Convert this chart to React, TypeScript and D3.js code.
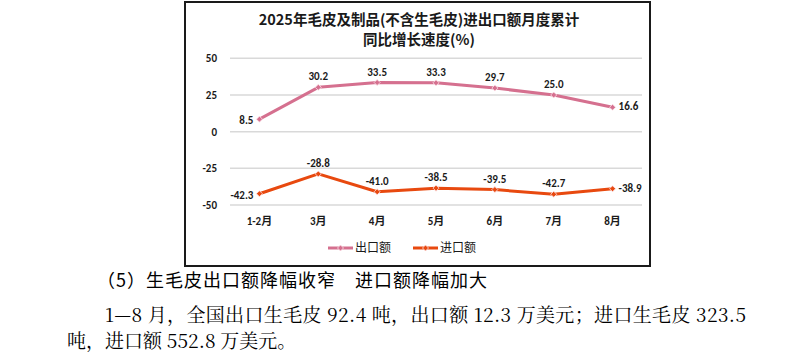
import React from "react";
import * as d3 from "d3";

const categories = ["1-2月", "3月", "4月", "5月", "6月", "7月", "8月"];
const exportValues = [8.5, 30.2, 33.5, 33.3, 29.7, 25.0, 16.6];
const importValues = [-42.3, -28.8, -41.0, -38.5, -39.5, -42.7, -38.9];
const yTicks = [50, 25, 0, -25, -50];
const seriesNames = ["出口额", "进口额"];
const titleLines = ["2025年毛皮及制品(不含生毛皮)进出口额月度累计", "同比增长速度(%)"];
const headingText = "（5）生毛皮出口额降幅收窄\u3000进口额降幅加大";
const bodyLines = [
  "1—8 月，全国出口生毛皮 92.4 吨，出口额 12.3 万美元；进口生毛皮 323.5",
  "吨，进口额 552.8 万美元。",
];

const W = 812;
const H = 359;
const COLORS = ["#D5708F", "#E8490F"];
const LABEL_FONT = "Calibri, 'Liberation Sans', 'Noto Sans CJK SC', sans-serif";
const CJK_FONT = "'Noto Sans CJK SC', 'Microsoft YaHei', sans-serif";
const SERIF_FONT = "'Noto Serif CJK SC', 'Liberation Serif', 'Noto Sans CJK SC', serif";

const fmt = (v: number) => v.toFixed(1);

export default function App() {
  const x = d3.scaleBand<string>().domain(categories).range([230, 642]);
  const y = d3.scaleLinear().domain([-50, 50]).range([205, 58.3]);
  const cx = (c: string) => (x(c) as number) + x.bandwidth() / 2;

  const series = [exportValues, importValues];
  const line = d3
    .line<number>()
    .x((_, i) => cx(categories[i]))
    .y((d) => y(d));

  const diamond = (px: number, py: number, color: string, key: string) => (
    <path
      key={key}
      d={`M${px},${py - 3} L${px + 3},${py} L${px},${py + 3} L${px - 3},${py} Z`}
      fill={color}
      stroke="#fbe3ea"
      strokeWidth={0.8}
    />
  );

  return (
    <svg
      width={W}
      height={H}
      style={{ position: "absolute", left: 0, top: 0, background: "#fff" }}
    >
      <rect x={0} y={0} width={W} height={H} fill="#fff" />
      <rect x={185} y={2} width={465} height={264} fill="none" stroke="#1a1a1a" strokeWidth={2} />

      {titleLines.map((t, i) => (
        <text
          key={t}
          x={419}
          y={25 + i * 20}
          textAnchor="middle"
          fontFamily={CJK_FONT}
          fontWeight={700}
          fontSize={14.5}
          fill="#1a1a1a"
        >
          {t}
        </text>
      ))}

      {yTicks.map((t) => (
        <g key={t}>
          <line x1={230} x2={642} y1={y(t)} y2={y(t)} stroke="#d9d9d9" strokeWidth={1.5} />
          <text
            x={217}
            y={y(t)}
            dy="0.35em"
            textAnchor="end"
            fontFamily={LABEL_FONT}
            fontWeight={700}
            fontSize={11}
            fill="#1a1a1a"
          >
            {t}
          </text>
        </g>
      ))}

      {categories.map((c) => (
        <text
          key={c}
          x={cx(c)}
          y={221}
          dy="0.35em"
          textAnchor="middle"
          fontFamily={LABEL_FONT}
          fontWeight={700}
          fontSize={11}
          fill="#1a1a1a"
        >
          {c}
        </text>
      ))}

      {series.map((vals, si) => (
        <g key={si}>
          <path d={line(vals) || ""} fill="none" stroke={COLORS[si]} strokeWidth={3} strokeLinejoin="round" />
          {vals.map((v, i) => diamond(cx(categories[i]), y(v), COLORS[si], `m${si}-${i}`))}
          {vals.map((v, i) => {
            const px = cx(categories[i]);
            const py = y(v);
            let tx = px;
            let ty = py - 7;
            let anchor: "middle" | "end" | "start" = "middle";
            if (i === 0) {
              tx = px - 6;
              ty = py + 1;
              anchor = "end";
            } else if (i === vals.length - 1) {
              tx = px + 6;
              ty = py - 1;
              anchor = "start";
            }
            return (
              <text
                key={`l${si}-${i}`}
                x={tx}
                y={ty}
                dy={anchor === "middle" ? 0 : "0.35em"}
                textAnchor={anchor}
                fontFamily={LABEL_FONT}
                fontWeight={700}
                fontSize={11}
                fill="#1a1a1a"
              >
                {fmt(v)}
              </text>
            );
          })}
        </g>
      ))}

      {seriesNames.map((name, i) => {
        const lx = 328 + i * 85;
        const ly = 248;
        return (
          <g key={name}>
            <line x1={lx} x2={lx + 25} y1={ly} y2={ly} stroke={COLORS[i]} strokeWidth={3} />
            {diamond(lx + 12.5, ly, COLORS[i], `lg${i}`)}
            <text
              x={lx + 27}
              y={ly}
              dy="0.35em"
              fontFamily={CJK_FONT}
              fontSize={12}
              fill="#1a1a1a"
            >
              {name}
            </text>
          </g>
        );
      })}

      <text
        x={97}
        y={287}
        fontFamily={CJK_FONT}
        fontWeight={400}
        fontSize={18}
        fill="#000"
        textLength={390}
        lengthAdjust="spacing"
      >
        {headingText}
      </text>
      <text
        x={105}
        y={322}
        fontFamily={SERIF_FONT}
        fontSize={19}
        fill="#000"
        textLength={641}
        lengthAdjust="spacing"
      >
        {bodyLines[0]}
      </text>
      <text x={67} y={348} fontFamily={SERIF_FONT} fontSize={19} fill="#000">
        {bodyLines[1]}
      </text>
    </svg>
  );
}
